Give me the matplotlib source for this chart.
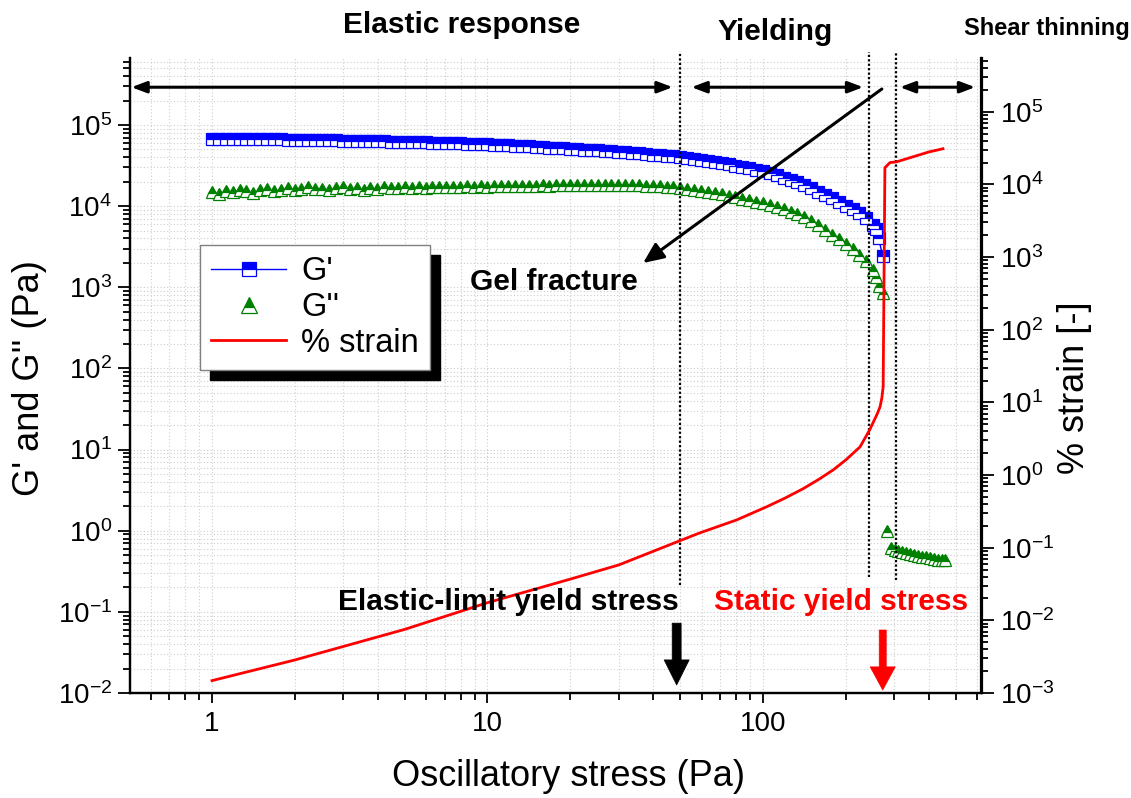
import numpy as np
import matplotlib
matplotlib.use("Agg")
import matplotlib.pyplot as plt
import matplotlib.transforms as mtransforms
from matplotlib.ticker import LogLocator, NullFormatter, FuncFormatter

plt.rcParams["font.family"] = ["Liberation Sans", "DejaVu Sans"]
plt.rcParams["axes.unicode_minus"] = False

# ---- stress sweep (Pa) before the yield point ----
stress = [1.000, 1.059, 1.122, 1.189, 1.259, 1.334, 1.413, 1.496, 1.585, 1.679,
          1.778, 1.884, 1.995, 2.113, 2.239, 2.371, 2.512, 2.661, 2.818, 2.985,
          3.162, 3.350, 3.548, 3.758, 3.981, 4.217, 4.467, 4.732, 5.012, 5.309,
          5.623, 5.957, 6.310, 6.683, 7.079, 7.499, 7.943, 8.414, 8.913, 9.441,
          10.00, 10.59, 11.22, 11.89, 12.59, 13.34, 14.13, 14.96, 15.85, 16.79,
          17.78, 18.84, 19.95, 21.13, 22.39, 23.71, 25.12, 26.61, 28.18, 29.85,
          31.62, 33.50, 35.48, 37.58, 39.81, 42.17, 44.67, 47.32, 50.12, 53.09,
          56.23, 59.57, 63.10, 66.83, 70.79, 74.99, 79.43, 84.14, 89.13, 94.41,
          100.0, 105.9, 112.2, 118.9, 125.9, 133.4, 141.3, 149.6, 158.5, 167.9,
          177.8, 188.4, 199.5, 211.3, 223.9, 237.1, 251.0, 258.0, 263.0, 272.0]

# storage modulus G' (Pa)
g_storage = [68000, 67800, 67700, 67500, 67400, 67200, 67000, 66900, 66700, 66600,
             66400, 66200, 66000, 65800, 65500, 65300, 65000, 64800, 64500, 64300,
             64000, 63800, 63500, 63300, 63000, 62800, 62500, 62300, 62000, 61700,
             61300, 61000, 60700, 60300, 60000, 59700, 59300, 59000, 58700, 58300,
             58000, 57400, 56800, 56200, 55700, 55100, 54500, 53900, 53300, 52700,
             52200, 51600, 51000, 50400, 49800, 49300, 48700, 48100, 47600, 47000,
             46300, 45600, 44800, 44100, 43300, 42600, 41800, 41100, 40500, 39400,
             38300, 37200, 36100, 35000, 34000, 32800, 31600, 30400, 29300, 28100,
             27000, 25400, 23900, 22500, 21200, 20000, 18200, 16600, 15100, 13800,
             12600, 11200, 10000, 9100, 8200, 7100, 5900, 5300, 4000, 2400]

# loss modulus G'' (Pa)
g_loss = [15000, 14200, 15500, 14800, 16000, 15200, 14600, 15800, 16500, 15300,
          15900, 16800, 15600, 16200, 17000, 16100, 16400, 15800, 16600, 17200,
          16300, 16700, 16000, 16900, 16500, 17100, 16600, 16800, 17300, 16700,
          17000, 16900, 17200, 17000, 17400, 17100, 17300, 17500, 17200, 17600,
          17400, 17500, 17700, 17600, 17800, 17700, 17900, 17800, 18000, 17900,
          18100, 18000, 18200, 18100, 18200, 18300, 18200, 18300, 18200, 18300,
          18200, 18100, 18000, 17800, 17700, 17500, 17300, 17000, 16700, 16300,
          15900, 15500, 15000, 14500, 14000, 13500, 13000, 12400, 11900, 11400,
          10900, 10300, 9700, 9100, 8500, 7900, 7300, 6500, 5800, 5100,
          4400, 3900, 3400, 3000, 2500, 2100, 1650, 1350, 1050, 840]

# ---- after the gel fractures (only G'' stays measurable) ----
stress_post = [281, 292, 301, 310, 320, 331, 342, 353, 365, 377, 390, 403, 417, 431, 445, 458]
g_loss_post = [1.0, 0.62, 0.58, 0.56, 0.55, 0.53, 0.52, 0.50, 0.49, 0.48, 0.47, 0.46,
               0.45, 0.44, 0.44, 0.43]

# ---- strain response (%) ----
strain_stress = [1, 2, 5, 10, 20, 30, 50, 59, 80, 103, 120, 140, 160, 180, 200, 225,
                 244, 260, 266, 270, 273, 277, 289, 306, 350, 400, 450]
strain_pct = [0.00148, 0.00285, 0.0075, 0.0175, 0.037, 0.058, 0.125, 0.16, 0.24, 0.365,
              0.48, 0.65, 0.88, 1.18, 1.62, 2.44, 4.2, 7.0, 8.7, 11.5, 16.4, 1.7e4,
              2.0e4, 2.05e4, 2.4e4, 2.8e4, 3.1e4]

# region boundaries (Pa) and annotation stresses
region_bounds = [50, 243, 304]
elastic_limit = 48.6
static_yield = 272

W, H = 1131, 798
fig = plt.figure(figsize=(W / 100, H / 100), dpi=100)
ax = fig.add_axes([130 / W, 1 - 693 / H, (981.5 - 130) / W, (693 - 58) / H])
ax2 = ax.twinx()

BLUE = "#0000ff"
GREEN = "#008000"
RED = "#ff0000"

ax.set_xscale("log")
ax.set_yscale("log")
ax.set_xlim(0.504, 621)
ax.set_ylim(1e-2, 6.7e5)
ax2.set_yscale("log")
ax2.set_ylim(1e-3, 5.5e5)

for a in (ax, ax2):
    a.spines["top"].set_visible(False)
    for s in ("left", "right", "bottom"):
        a.spines[s].set_linewidth(1.6)
    a.yaxis.set_major_locator(LogLocator(base=10, numticks=30))
    a.yaxis.set_minor_locator(LogLocator(base=10, subs=np.arange(2, 10), numticks=30))
    a.yaxis.set_minor_formatter(NullFormatter())
ax.xaxis.set_major_locator(LogLocator(base=10, numticks=30))
ax.xaxis.set_minor_locator(LogLocator(base=10, subs=np.arange(2, 10), numticks=30))
ax.xaxis.set_minor_formatter(NullFormatter())
ax.xaxis.set_major_formatter(FuncFormatter(lambda v, p: f"{v:g}"))

ax.tick_params(which="both", direction="out", width=1.3, labelsize=20, top=False)
ax.tick_params(axis="y", which="major", length=9, pad=4)
ax.tick_params(axis="y", which="minor", length=5)
ax.tick_params(axis="x", which="major", length=7, pad=6)
ax.tick_params(axis="x", which="minor", length=5)
ax2.tick_params(which="both", direction="out", width=1.3, labelsize=20)
ax2.tick_params(axis="y", which="major", length=9, pad=4)
ax2.tick_params(axis="y", which="minor", length=5)

ax.set_axisbelow(True)
ax.grid(True, which="both", color="#cdcdcd", linestyle=(0, (1, 2)), linewidth=0.8)

# moduli
l_gs, = ax.plot(stress, g_storage, color=BLUE, lw=1.0, marker="s", ms=8.3,
                mec=BLUE, mfc=BLUE, mfcalt="white", fillstyle="top", mew=0.9, zorder=3)
l_gl, = ax.plot(stress + stress_post, g_loss + g_loss_post, ls="none", marker="^", ms=9,
                mec=GREEN, mfc=GREEN, mfcalt="white", fillstyle="top", mew=0.9, zorder=3)
# strain
l_st, = ax2.plot(strain_stress, strain_pct, color=RED, lw=2.0, zorder=3)

leg = ax2.legend([l_gs, l_gl, l_st], ["G'", "G''", "% strain"], loc="upper left",
                 bbox_to_anchor=(0.082, 0.706), borderaxespad=0, fontsize=23.5,
                 frameon=True, fancybox=False, edgecolor="#808080", framealpha=1,
                 handlelength=2.3, handletextpad=0.45, labelspacing=0.15, borderpad=0.35,
                 markerscale=1.25,
                 shadow={"ox": 7.2, "oy": -7.2, "facecolor": "black",
                         "edgecolor": "black", "alpha": 1})
leg.get_frame().set_linewidth(1.0)
leg.set_zorder(10)

trans = mtransforms.blended_transform_factory(ax.transData, ax.transAxes)

# region boundaries
for xb, yb in zip(region_bounds, [0.170, 0.183, 0.178]):
    ax.plot([xb, xb], [yb, 1.009], transform=trans, color="black", lw=1.6,
            ls=(0, (1, 1)), clip_on=False, zorder=4)

# region span arrows
for x0, x1 in [(0.51, 47), (55, 231), (314, 589)]:
    ax.annotate("", xy=(x1, 0.954), xytext=(x0, 0.954), xycoords=trans, textcoords=trans,
                annotation_clip=False,
                arrowprops=dict(arrowstyle="<|-|>,head_length=0.45,head_width=0.17",
                                mutation_scale=20, lw=2.2, color="black",
                                shrinkA=0, shrinkB=0))

# gel fracture pointer
ax.annotate("", xy=(36.7, 1.99e3), xytext=(270, 2.78e5),
            arrowprops=dict(arrowstyle="-|>,head_length=0.5,head_width=0.22",
                            mutation_scale=25, lw=2.2, color="black",
                            shrinkA=0, shrinkB=0), zorder=5)

# yield stress markers
ax.annotate("", xy=(elastic_limit, 0.0126), xytext=(elastic_limit, 0.110),
            xycoords=trans, textcoords=trans,
            arrowprops=dict(arrowstyle="simple,head_length=1.29,head_width=1.29,tail_width=0.46",
                            mutation_scale=14, color="black", lw=0.5,
                            shrinkA=0, shrinkB=0))
ax.annotate("", xy=(static_yield, 0.0047), xytext=(static_yield, 0.0992),
            xycoords=trans, textcoords=trans,
            arrowprops=dict(arrowstyle="simple,head_length=1.19,head_width=1.29,tail_width=0.36",
                            mutation_scale=14, color=RED, lw=0.5,
                            shrinkA=0, shrinkB=0))


def ftext(px, py, s, **kw):
    fig.text(px / W, 1 - py / H, s, ha="center", va="center", **kw)


bold = dict(fontsize=21.5, fontweight="bold")
ftext(462, 25, "Elastic response", **bold)
ftext(775, 32, "Yielding", **bold)
ftext(1047, 28, "Shear thinning", fontsize=17, fontweight="bold")
ftext(554, 282, "Gel fracture", **bold)
ftext(508, 602, "Elastic-limit yield stress", **bold)
ftext(841, 602, "Static yield stress", color=RED, **bold)

ax.set_xlabel("Oscillatory stress (Pa)", fontsize=26)
ax.xaxis.label.set_va("center")
ax.xaxis.set_label_coords((568 - 130) / 851.5, (693 - 776) / 635)
ax.set_ylabel("G' and G'' (Pa)", fontsize=26)
ax.yaxis.label.set_va("center")
ax.yaxis.set_label_coords((30 - 130) / 851.5, (693 - 378) / 635)
ax2.set_ylabel("% strain [-]", fontsize=26, rotation=90)
ax2.yaxis.label.set_va("center")
ax2.yaxis.set_label_coords((1075 - 130) / 851.5, (693 - 388) / 635)

fig.savefig("out.png", dpi=100)
